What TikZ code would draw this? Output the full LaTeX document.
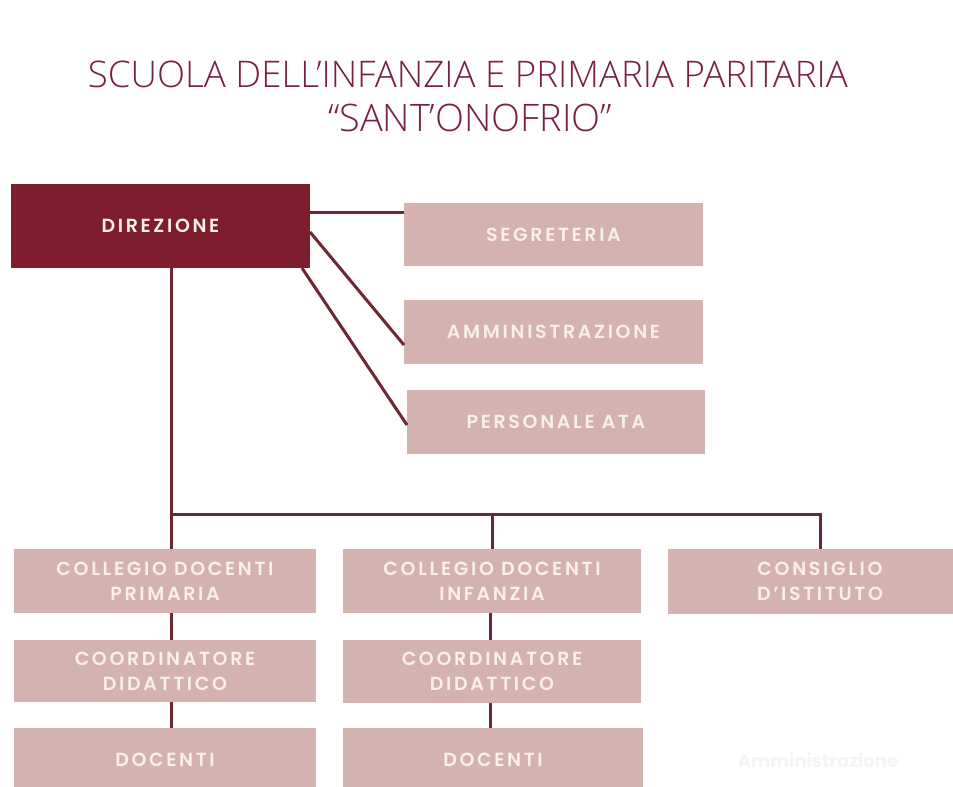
\documentclass[tikz,border=0pt]{standalone}
\usepackage{fontspec}
\setmainfont{Open Sans}
\IfFontExistsTF{Open Sans Light}{\newfontfamily\titlefont{Open Sans Light}}{\newfontfamily\titlefont{Open Sans}}
\IfFontExistsTF{Poppins SemiBold}{\newfontfamily\boxfont{Poppins SemiBold}[LetterSpace=14]}{\newfontfamily\boxfont{Poppins}[LetterSpace=14,UprightFont=*,UprightFeatures={FakeBold=0}]\let\oldboxfont\boxfont\renewcommand\boxfont{\oldboxfont\bfseries}}
\newfontfamily\faintfont{Poppins}
\usetikzlibrary{calc}
\definecolor{darkbox}{HTML}{7E1E2C}
\definecolor{lightbox}{HTML}{D3B2AF}
\definecolor{boxtext}{HTML}{F8F0EA}
\definecolor{titlecol}{HTML}{7B2045}
\definecolor{linecol}{HTML}{6E2633}
\definecolor{faintcol}{HTML}{F7F3F2}
\tikzset{
  base/.style={anchor=north west, inner sep=0pt, outer sep=0pt, align=center,
    text=boxtext, font=\boxfont\fontsize{19}{25}\selectfont},
  lbox/.style={base, fill=lightbox},
  dbox/.style={base, fill=darkbox},
  conn/.style={draw=linecol, line width=3pt},
  titletext/.style={text=titlecol, inner sep=0pt, font=\titlefont\fontsize{35}{40}\selectfont}
}
\begin{document}
\begin{tikzpicture}[x=1pt,y=-1pt]
\useasboundingbox (0,0) rectangle (953,787);
\fill[white] (0,0) rectangle (953,787);
\clip (0,0) rectangle (953,787);
% title
\node[titletext] (t1) at (468,74) {\resizebox{760pt}{!}{SCUOLA DELL’INFANZIA E PRIMARIA PARITARIA}};
\node[titletext] (t2) at (470,118) {\resizebox{284pt}{!}{“SANT’ONOFRIO”}};
% boxes
\node[dbox, minimum width=299pt, minimum height=84pt] (dir) at (11,184) {DIREZIONE};
\node[lbox, minimum width=299pt, minimum height=63pt] (seg) at (404,203) {SEGRETERIA};
\node[lbox, minimum width=299pt, minimum height=64pt] (amm) at (404,300) {AMMINISTRAZIONE};
\node[lbox, minimum width=298pt, minimum height=64pt] (pers) at (407,390) {PERSONALE ATA};
\node[lbox, minimum width=302pt, minimum height=64pt] (cpL) at (14,549) {COLLEGIO DOCENTI\\PRIMARIA};
\node[lbox, minimum width=298pt, minimum height=64pt] (cpI) at (343,549) {COLLEGIO DOCENTI\\INFANZIA};
\node[lbox, minimum width=304pt, minimum height=65pt] (cons) at (668,549) {CONSIGLIO\\D’ISTITUTO};
\node[lbox, minimum width=302pt, minimum height=62pt] (coL) at (14,640) {COORDINATORE\\DIDATTICO};
\node[lbox, minimum width=298pt, minimum height=63pt] (coI) at (343,640) {COORDINATORE\\DIDATTICO};
\node[lbox, minimum width=302pt, minimum height=64pt] (doL) at (14,728) {DOCENTI};
\node[lbox, minimum width=300pt, minimum height=64pt] (doI) at (343,728) {DOCENTI};
\node[text=faintcol, font=\faintfont\bfseries\fontsize{18}{20}\selectfont] (faint) at (818,760) {Amministrazione};
% connectors
\coordinate (j1) at (171,514);
\coordinate (j2) at (490,514);
\draw[conn] ($(dir.north east)+(0,28)$) -- (seg.west |- {$(dir.north east)+(0,28)$});
\draw[conn] ($(dir.north east)+(0,48)$) -- ($(amm.south west)+(0,-19)$);
\draw[conn] ($(dir.south east)+(-8,0)$) -- ($(pers.west)+(0,3)$);
\draw[conn] (dir.south -| j1) -- (j1) -| (cons.north);
\draw[conn] (cpI.north |- j1) -- (cpI.north);
\draw[conn] (cpL.north -| j1) -- (j1);
\draw[conn] (cpL.south -| j1) -- (coL.north -| j1);
\draw[conn] (coL.south -| j1) -- (doL.north -| j1);
\draw[conn] (cpI.south -| j2) -- (coI.north -| j2);
\draw[conn] (coI.south -| j2) -- (doI.north -| j2);
\end{tikzpicture}
\end{document}
